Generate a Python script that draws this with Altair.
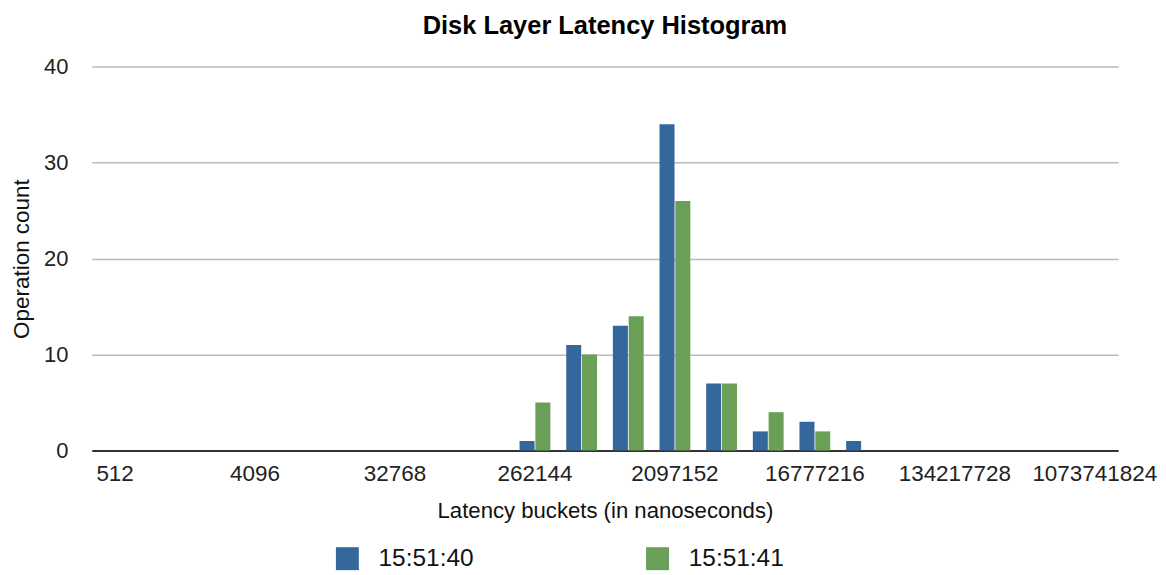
import altair as alt
import pandas as pd

# Latency buckets (nanoseconds)
buckets = ["512", "1024", "2048", "4096", "8192", "16384", "32768", "65536",
           "131072", "262144", "524288", "1048576", "2097152", "4194304",
           "8388608", "16777216", "33554432", "67108864", "134217728",
           "268435456", "536870912", "1073741824"]
labelled_buckets = ["512", "4096", "32768", "262144", "2097152", "16777216",
                    "134217728", "1073741824"]

series_names = ["15:51:40", "15:51:41"]
counts_1540 = [0, 0, 0, 0, 0, 0, 0, 0, 0, 1, 11, 13, 34, 7, 2, 3, 1, 0, 0, 0, 0, 0]
counts_1541 = [0, 0, 0, 0, 0, 0, 0, 0, 0, 5, 10, 14, 26, 7, 4, 2, 0, 0, 0, 0, 0, 0]
y_ticks = [0, 10, 20, 30, 40]
colors = ["#34679C", "#6A9F57"]

rows = []
for b, a, c in zip(buckets, counts_1540, counts_1541):
    rows.append({"bucket": b, "series": series_names[0], "count": a})
    rows.append({"bucket": b, "series": series_names[1], "count": c})
df = pd.DataFrame(rows)

chart = alt.Chart(df).mark_bar().encode(
    x=alt.X(
        "bucket:N",
        sort=buckets,
        scale=alt.Scale(paddingInner=0.34, paddingOuter=0.17),
        axis=alt.Axis(
            values=labelled_buckets,
            title="Latency buckets (in nanoseconds)",
            labelAngle=0,
            ticks=False,
            grid=False,
            domainColor="#333333",
            domainWidth=2,
            labelFontSize=22.5,
            labelPadding=12,
            labelColor="#222222",
            labelLimit=300,
            labelOverlap=False,
            titleFontSize=22.2,
            titleFontWeight="normal",
            titlePadding=15,
            titleColor="#111111",
        ),
    ),
    xOffset=alt.XOffset("series:N", sort=series_names,
                        scale=alt.Scale(paddingInner=0.05)),
    y=alt.Y(
        "count:Q",
        scale=alt.Scale(domain=[0, 40]),
        axis=alt.Axis(
            values=y_ticks,
            title="Operation count",
            ticks=False,
            domain=False,
            gridColor="#bbbbbb",
            gridWidth=1.5,
            labelPadding=24,
            labelFontSize=22,
            labelColor="#222222",
            titleFontSize=22.5,
            titleFontWeight="normal",
            titlePadding=10,
            titleColor="#111111",
        ),
    ),
    color=alt.Color(
        "series:N",
        scale=alt.Scale(domain=series_names, range=colors),
        legend=alt.Legend(
            title=None,
            orient="none",
            legendX=244,
            legendY=481,
            direction="horizontal",
            symbolType="square",
            symbolSize=529,
            symbolStrokeWidth=0,
            symbolOpacity=1,
            labelFontSize=24.5,
            labelColor="#111111",
            labelOffset=19,
            columnPadding=172,
            padding=0,
        ),
    ),
).properties(
    width=1029,
    height=385,
    title=alt.TitleParams(
        "Disk Layer Latency Histogram",
        fontSize=25.5,
        fontWeight="bold",
        offset=16,
        anchor="middle",
        color="#000000",
    ),
    padding={"left": 84, "top": 58, "right": 40, "bottom": 122},
    autosize=alt.AutoSizeParams(type="none"),
).configure(
    font="Liberation Sans",
).configure_view(
    stroke=None,
)

chart.save("out.html", embed_options={"renderer": "svg", "actions": False})
